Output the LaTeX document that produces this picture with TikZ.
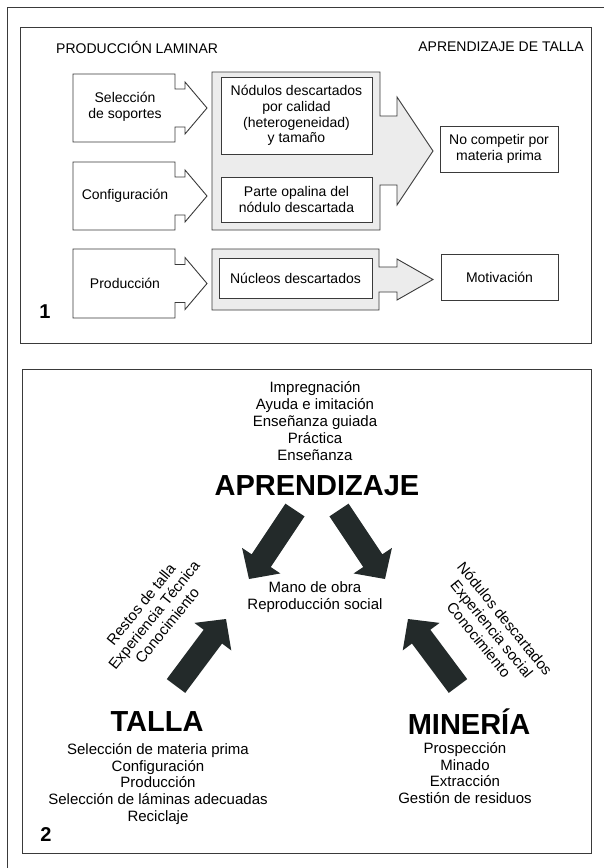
\documentclass[tikz,border=0pt]{standalone}
\usepackage{fontspec}
\setmainfont{Liberation Sans}
\usetikzlibrary{calc}
\definecolor{linec}{HTML}{3A3A3A}
\definecolor{grayf}{HTML}{ECECEC}
\definecolor{arrowc}{HTML}{232A2A}
\tikzset{
  boxline/.style={draw=linec, line width=0.9pt, line join=miter},
  txt/.style={font=\fontsize{14}{15.7}\selectfont, align=center, inner sep=0pt, text=black},
  txtb/.style={font=\fontsize{15}{16.8}\selectfont, align=center, inner sep=0pt, text=black},
  bigtitle/.style={font=\fontsize{29}{32}\selectfont\bfseries, inner sep=0pt},
  numlabel/.style={font=\fontsize{20}{22}\selectfont\bfseries, inner sep=0pt},
  panel/.style={draw=linec, line width=1pt},
  whitebox/.style={boxline, fill=white, txt},
}
\newcommand\blockarr[2]{%
  \coordinate (baB) at ($(#2)!22pt!(#1)$);
  \fill[arrowc] ($(#1)!11.5pt!90:(#2)$) -- ($(baB)!11.5pt!-90:(#1)$) -- ($(baB)!23pt!-90:(#1)$) -- (#2)
    -- ($(baB)!23pt!90:(#1)$) -- ($(baB)!11.5pt!90:(#1)$) -- ($(#1)!11.5pt!-90:(#2)$) -- cycle;}
\begin{document}
\begin{tikzpicture}[x=1pt,y=-1pt]
\useasboundingbox (0,0) rectangle (604,868);
\fill[white] (0,0) rectangle (604,868);
% outer frame (cropped)
\draw[linec, line width=1pt] (7,868) -- (7,7) -- (604,7);
% panels
\draw[panel] (20,27) rectangle (591,343);
\draw[panel] (22,369) rectangle (591,853);

% ---------- Panel 1 ----------
\node[txt, anchor=west] (prodlam) at (56,47) {PRODUCCIÓN LAMINAR};
\node[txt, anchor=east] (aprtalla) at (584,47) {APRENDIZAJE DE TALLA};

% left notched boxes
\draw[boxline, fill=white] (73,74) -- (175,74) -- (175,89) -- (185,89) -- (185,82) -- (207,108)
  -- (185,134) -- (185,127) -- (175,127) -- (175,142) -- (73,142) -- cycle;
\node[txt] (selec) at (125,107) {Selección\\de soportes};

\draw[boxline, fill=white] (73,162) -- (175,162) -- (175,177) -- (185,177) -- (185,170) -- (207,196)
  -- (185,222) -- (185,215) -- (175,215) -- (175,230) -- (73,230) -- cycle;
\node[txt] (config) at (125,196) {Configuración};

\draw[boxline, fill=white] (73,249) -- (175,249) -- (175,264.5) -- (185,264.5) -- (185,257.5) -- (207,283.5)
  -- (185,309.5) -- (185,302.5) -- (175,302.5) -- (175,318) -- (73,318) -- cycle;
\node[txt] (produc) at (125,283) {Producción};

% grey arrows
\draw[boxline, fill=grayf] (212,72) -- (380,72) -- (380,116) -- (397,116) -- (397,97) -- (433,151)
  -- (397,205) -- (397,185) -- (380,185) -- (380,230) -- (212,230) -- cycle;
\draw[boxline, fill=grayf] (212,249) -- (379,249) -- (379,267) -- (397,267) -- (397,259) -- (433,279.5)
  -- (397,300) -- (397,292) -- (379,292) -- (379,310) -- (212,310) -- cycle;

\node[whitebox, minimum width=151pt, minimum height=77pt] (nodulos) at (296.5,115.5)
  {Nódulos descartados\\por calidad\\(heterogeneidad)\\y tamaño};
\node[whitebox, minimum width=151pt, minimum height=45pt] (opalina) at (296.5,199.5)
  {Parte opalina del\\nódulo descartada};
\node[whitebox, minimum width=153pt, minimum height=40pt] (nucleos) at (295.5,278)
  {Núcleos descartados};
\node[whitebox, minimum width=118pt, minimum height=46pt] (nocomp) at (499,149)
  {No competir por\\materia prima};
\node[whitebox, minimum width=117pt, minimum height=46pt] (motiv) at (499.5,277)
  {Motivación};

\node[numlabel] (n1) at (45,312) {1};

% ---------- Panel 2 ----------
\node[txtb] (aprlist) at (315,421) {Impregnación\\Ayuda e imitación\\Enseñanza guiada\\Práctica\\Enseñanza};
\node[bigtitle] (apr) at (317,486) {APRENDIZAJE};
\node[txtb] (mano) at (315,597) {Mano de obra\\Reproducción social};
\node[bigtitle] (talla) at (157,722) {TALLA};
\node[bigtitle] (mineria) at (469,722) {MINERÍA};
\node[txtb] (tallalist) at (158,784) {Selección de materia prima\\Configuración\\Producción\\Selección de láminas adecuadas\\Reciclaje};
\node[txtb] (minlist) at (465,773) {Prospección\\Minado\\Extracción\\Gestión de residuos};
\node[txtb, rotate=51] (tallaside) at (154,615) {Restos de talla\\Experiencia Técnica\\Conocimiento};
\node[txtb, rotate=-51] (minside) at (492,629) {Nódulos descartados\\Experiencia social\\Conocimiento};

% block arrows
\coordinate (a1t) at (295,510); \coordinate (a1h) at (249,579);
\coordinate (a2t) at (339,510); \coordinate (a2h) at (385,579);
\coordinate (a3t) at (176,686); \coordinate (a3h) at (226,619);
\coordinate (a4t) at (458,686); \coordinate (a4h) at (408,619);
\blockarr{a1t}{a1h}
\blockarr{a2t}{a2h}
\blockarr{a3t}{a3h}
\blockarr{a4t}{a4h}

\node[numlabel] (n2) at (46,835) {2};
\end{tikzpicture}
\end{document}
